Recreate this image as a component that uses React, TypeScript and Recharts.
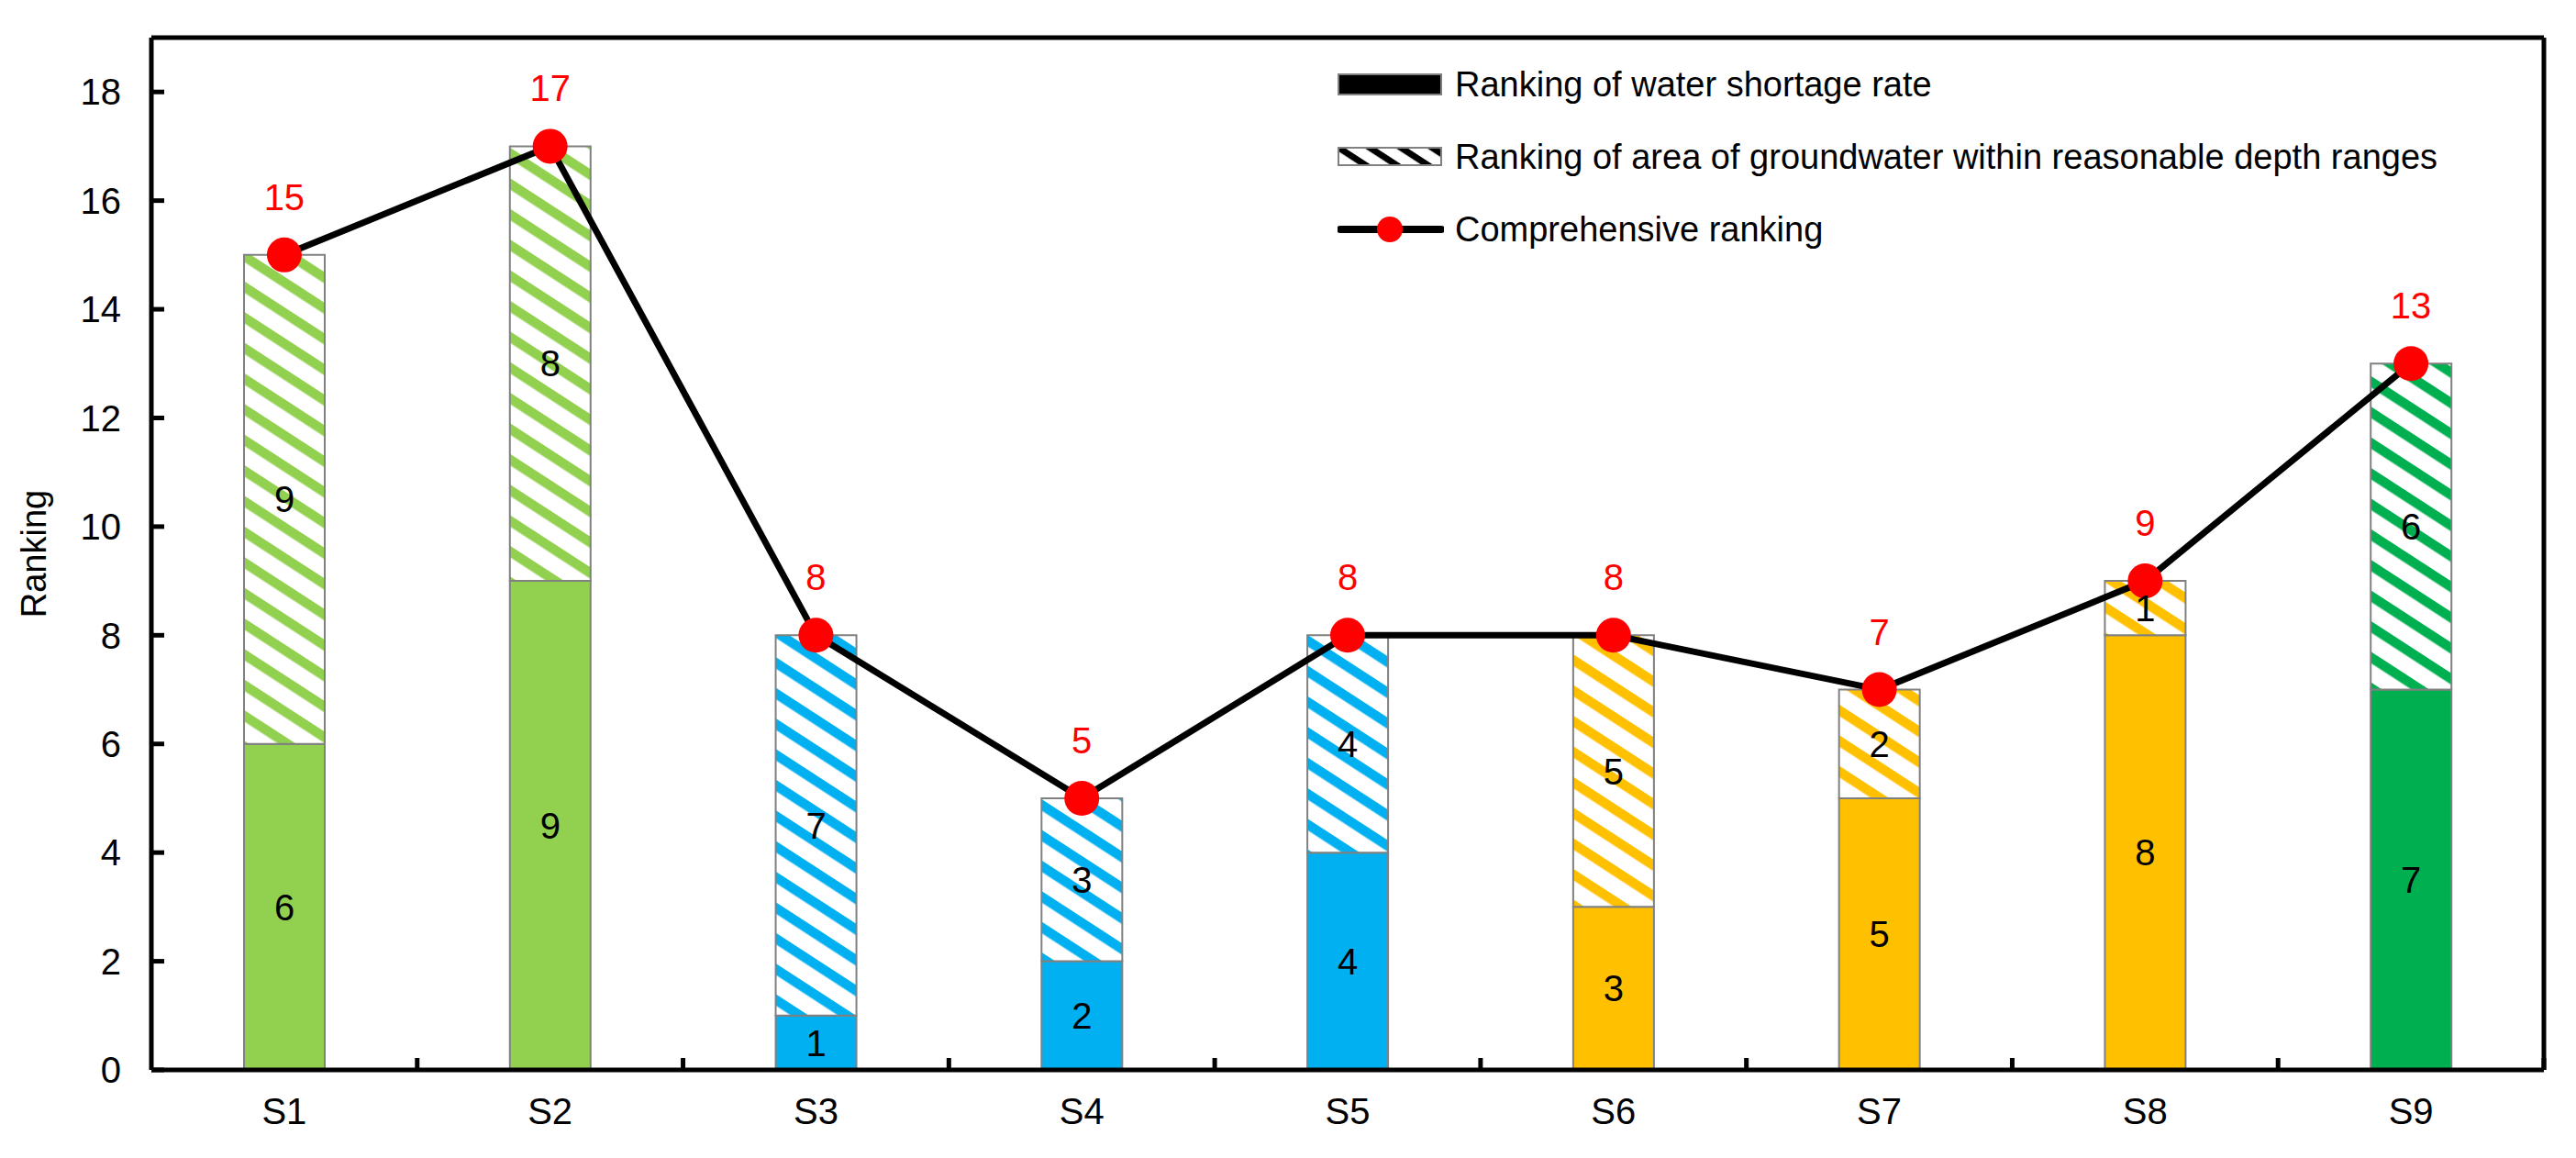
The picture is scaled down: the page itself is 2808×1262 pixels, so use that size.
import React from 'react';
import { ComposedChart, Bar, Line, XAxis, YAxis, Cell, LabelList, Legend, CartesianGrid } from 'recharts';

const sites = ['S1', 'S2', 'S3', 'S4', 'S5', 'S6', 'S7', 'S8', 'S9'];
const shortageRank = [6, 9, 1, 2, 4, 3, 5, 8, 7];
const groundwaterRank = [9, 8, 7, 3, 4, 5, 2, 1, 6];
const comprehensiveRank = [15, 17, 8, 5, 8, 8, 7, 9, 13];
const siteColors = ['#92D050', '#92D050', '#00B0F0', '#00B0F0', '#00B0F0', '#FFC000', '#FFC000', '#FFC000', '#00B050'];
const yTicks = [0, 2, 4, 6, 8, 10, 12, 14, 16, 18];
const legendLabels = [
  'Ranking of water shortage rate',
  'Ranking of area of groundwater within reasonable depth ranges',
  'Comprehensive ranking',
];

const data = sites.map((site, i) => ({
  site,
  shortage: shortageRank[i],
  groundwater: groundwaterRank[i],
  total: comprehensiveRank[i],
}));

const W = 2808;
const H = 1262;
const MARGIN = { top: 41, right: 35, left: 0, bottom: 36 };
const Y_AXIS_W = 165;
const X_AXIS_H = 60;
const BAND = (W - MARGIN.left - MARGIN.right - Y_AXIS_W) / sites.length;
const FONT = '"Liberation Sans", Arial, sans-serif';

const uniqueColors = Array.from(new Set(siteColors));
const patternId = (c: string) => 'hatch-' + c.replace('#', '');

// category label plus the small inward tick on the band boundary (Excel style)
const XTick = (props: any) => {
  const { x, y, payload } = props;
  const half = payload && typeof payload.offset === 'number' && payload.offset > 0 ? payload.offset : BAND / 2;
  const axisY = y - 31;
  return (
    <g>
      <line x1={x + half} x2={x + half} y1={axisY} y2={axisY - 13} stroke="#000" strokeWidth={5} />
      <text x={x} y={y} dy="0.71em" textAnchor="middle" fontSize={40} fill="#000" fontFamily={FONT}>
        {payload.value}
      </text>
    </g>
  );
};

// value label plus an inward tick
const YTick = (props: any) => {
  const { x, y, payload } = props;
  const axisX = x + 33;
  return (
    <g>
      <line x1={axisX} x2={axisX + 14} y1={y} y2={y} stroke="#000" strokeWidth={5} />
      <text x={x} y={y} dy="0.355em" textAnchor="end" fontSize={40} fill="#000" fontFamily={FONT}>
        {payload.value}
      </text>
    </g>
  );
};

const LegendBox = () => (
  <div style={{ fontFamily: FONT, fontSize: 38, color: '#000', lineHeight: 1 }}>
    {legendLabels.map((label, i) => (
      <div key={label} style={{ height: 79, display: 'flex', alignItems: 'center', whiteSpace: 'nowrap' }}>
        <svg width={116} height={30} style={{ marginRight: 12, flex: 'none' }}>
          {i === 0 && <rect x={1} y={4} width={112} height={22} fill="#000" stroke="#808080" strokeWidth={2} />}
          {i === 1 && <rect x={1} y={5} width={112} height={19} fill="url(#hatch-legend)" stroke="#808080" strokeWidth={2} />}
          {i === 2 && (
            <g>
              <line x1={3} x2={113} y1={15} y2={15} stroke="#000" strokeWidth={8} strokeLinecap="round" />
              <circle cx={57} cy={15} r={14} fill="#FF0000" />
            </g>
          )}
        </svg>
        <span>{label}</span>
      </div>
    ))}
  </div>
);

export default function App() {
  return (
    <div style={{ position: 'fixed', left: 0, top: 0, width: W, height: H, background: '#fff' }}>
      <ComposedChart width={W} height={H} data={data} margin={MARGIN} style={{ fontFamily: FONT }}>
        <defs>
          {uniqueColors.map((c) => (
            <pattern key={c} id={patternId(c)} patternUnits="userSpaceOnUse" width={40} height={28} patternTransform="rotate(33)">
              <rect width={40} height={28} fill="#fff" />
              <rect width={40} height={10.5} fill={c} />
            </pattern>
          ))}
          <pattern id="hatch-legend" patternUnits="userSpaceOnUse" width={30} height={18.5} patternTransform="rotate(33)">
            <rect width={30} height={18.5} fill="#fff" />
            <rect width={30} height={7} fill="#000" />
          </pattern>
        </defs>
        {/* top and right sides of the plot frame */}
        <CartesianGrid
          stroke="#000"
          strokeWidth={5}
          horizontalCoordinatesGenerator={({ offset }: any) => [offset.top]}
          verticalCoordinatesGenerator={({ offset }: any) => [offset.left + offset.width]}
        />
        <XAxis
          dataKey="site"
          height={X_AXIS_H}
          interval={0}
          tickSize={0}
          tickMargin={31}
          tickLine={false}
          axisLine={{ stroke: '#000', strokeWidth: 5 }}
          tick={<XTick />}
        />
        <YAxis
          type="number"
          domain={[0, 19]}
          ticks={yTicks}
          interval={0}
          width={Y_AXIS_W}
          tickSize={0}
          tickMargin={33}
          tickLine={false}
          axisLine={{ stroke: '#000', strokeWidth: 5 }}
          tick={<YTick />}
          label={{
            value: 'Ranking',
            angle: -90,
            position: 'insideLeft',
            offset: 37,
            style: { textAnchor: 'middle', fontSize: 38, fill: '#000', fontFamily: FONT },
          }}
        />
        <Legend
          layout="vertical"
          align="center"
          verticalAlign="middle"
          content={<LegendBox />}
          wrapperStyle={{ top: 52, left: 1458, width: 1320, height: 240 }}
        />
        <Bar dataKey="shortage" stackId="a" barSize={88} isAnimationActive={false}>
          {data.map((d, i) => (
            <Cell key={d.site} fill={siteColors[i]} stroke="#808080" strokeWidth={2} />
          ))}
          <LabelList dataKey="shortage" position="center" fill="#000" fontSize={40} fontFamily={FONT} />
        </Bar>
        <Bar dataKey="groundwater" stackId="a" barSize={88} isAnimationActive={false}>
          {data.map((d, i) => (
            <Cell key={d.site} fill={`url(#${patternId(siteColors[i])})`} stroke="#808080" strokeWidth={2} />
          ))}
          <LabelList dataKey="groundwater" position="center" fill="#000" fontSize={40} fontFamily={FONT} />
        </Bar>
        <Line
          dataKey="total"
          stroke="#000"
          strokeWidth={7}
          dot={{ r: 19, fill: '#FF0000', stroke: '#FF0000', strokeWidth: 0 }}
          activeDot={false}
          isAnimationActive={false}
        >
          <LabelList dataKey="total" position="top" offset={49} fill="#FF0000" fontSize={40} fontFamily={FONT} />
        </Line>
      </ComposedChart>
    </div>
  );
}
